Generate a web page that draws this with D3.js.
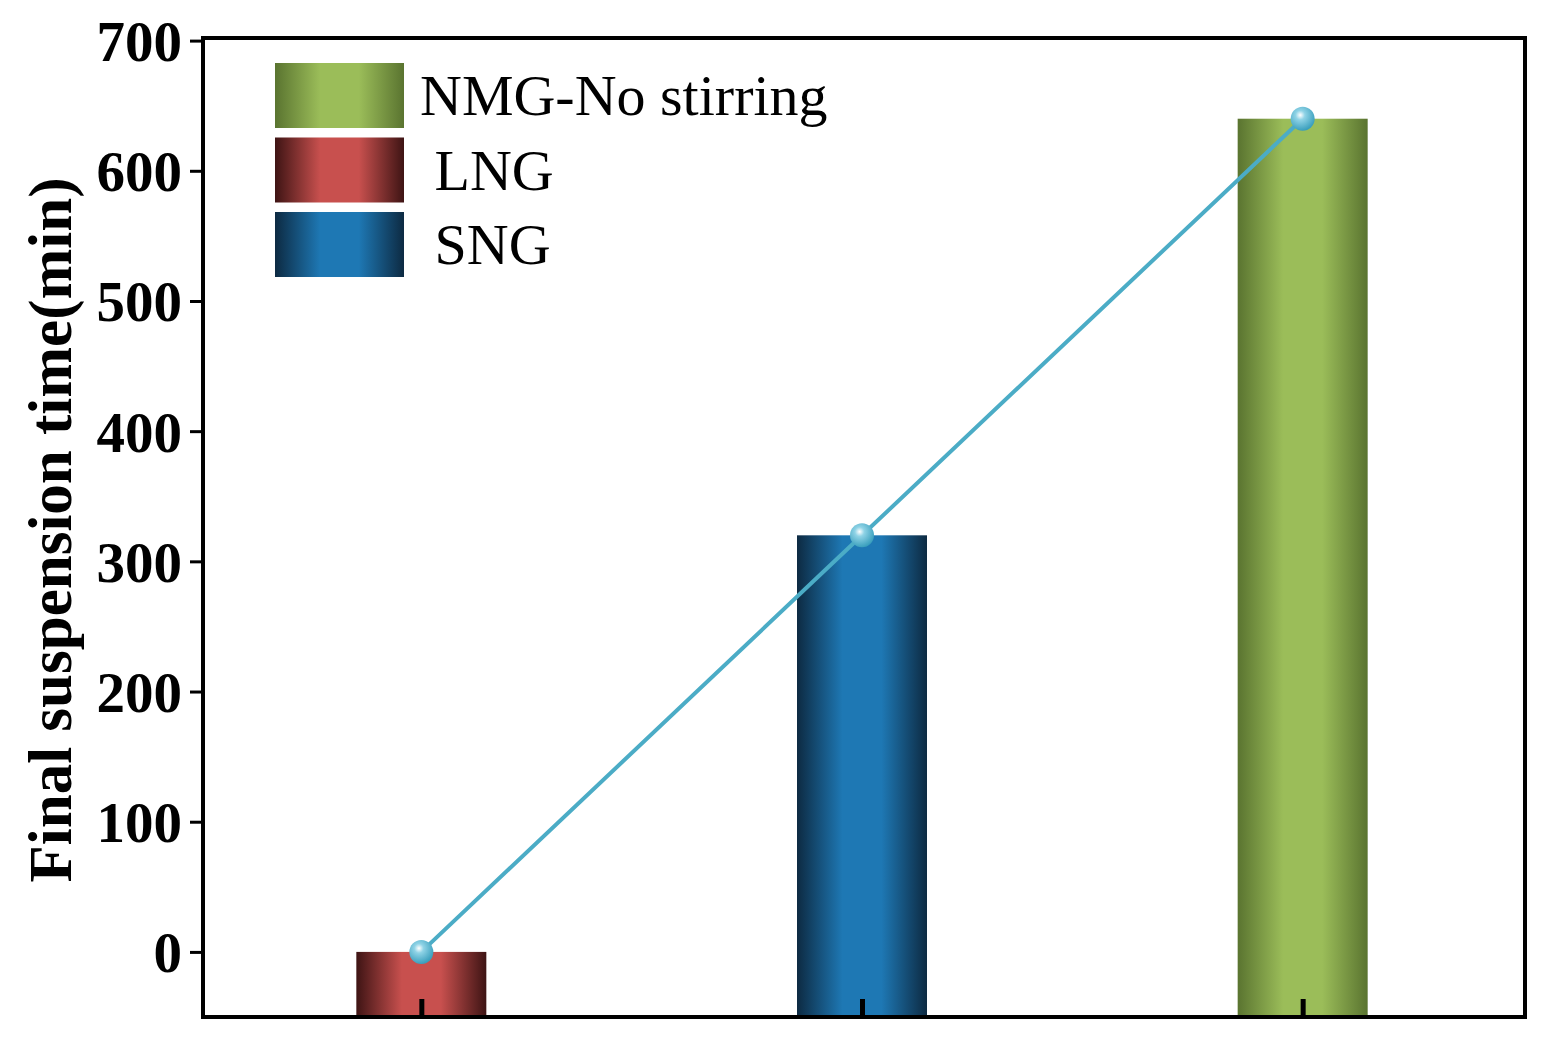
<!DOCTYPE html>
<html><head><meta charset="utf-8">
<script src="https://cdn.jsdelivr.net/npm/d3@7"></script>
<style>body{margin:0;background:#fff}</style>
</head><body>
<div id="chart"></div>
<script>
// data
let categories = ["LNG", "SNG", "NMG-No stirring"];
let positions = [1, 2, 3];
let values = [0, 320, 640];
let yTicks = [0, 100, 200, 300, 400, 500, 600, 700];
let legendOrder = ["NMG-No stirring", " LNG", " SNG"];
let colors = {
  "LNG": ["#3e1414", "#c8504e"],
  "SNG": ["#0d2a42", "#1e78b4"],
  "NMG-No stirring": ["#5a7430", "#9bbd59"]
};
let legendKeys = ["NMG-No stirring", "LNG", "SNG"];

let W = 1545, H = 1045;
let margin = {top: 38, right: 20, bottom: 28, left: 203};
let width = 1525 - margin.left;
let height = 1017 - margin.top;

let svg = d3.select("#chart").append("svg")
  .attr("width", W).attr("height", H)
  .style("font-family", "'Liberation Serif','Times New Roman',serif");

let defs = svg.append("defs");
Object.keys(colors).forEach(function(k, i) {
  let g = defs.append("linearGradient").attr("id", "grad" + i)
    .attr("x1", "0%").attr("x2", "100%").attr("y1", "0%").attr("y2", "0%");
  g.append("stop").attr("offset", "0%").attr("stop-color", colors[k][0]);
  g.append("stop").attr("offset", "35%").attr("stop-color", colors[k][1]);
  g.append("stop").attr("offset", "65%").attr("stop-color", colors[k][1]);
  g.append("stop").attr("offset", "100%").attr("stop-color", colors[k][0]);
});
let rg = defs.append("radialGradient").attr("id", "dot")
  .attr("cx", "40%").attr("cy", "35%").attr("r", "65%");
rg.append("stop").attr("offset", "0%").attr("stop-color", "#ffffff");
rg.append("stop").attr("offset", "30%").attr("stop-color", "#8fd3e6");
rg.append("stop").attr("offset", "100%").attr("stop-color", "#3a9fbd");

function gradId(k) { return "url(#grad" + Object.keys(colors).indexOf(k) + ")"; }

let g = svg.append("g").attr("transform", "translate(" + margin.left + "," + margin.top + ")");

let x = d3.scaleLinear().domain([0.5, 3.5]).range([-2, width - 2]);
let y = d3.scaleLinear().domain([-50, 702]).range([height, 0]);
let barW = 130;

// Bars
g.selectAll(".bar").data(values).enter().append("rect")
  .attr("x", function(d, i) { return x(positions[i]) - barW / 2; })
  .attr("y", function(d) { return y(d); })
  .attr("width", barW)
  .attr("height", function(d) { return y(-50) - y(d); })
  .attr("fill", function(d, i) { return gradId(categories[i]); });

// Line
let line = d3.line().x(function(d, i) { return x(positions[i]); }).y(function(d) { return y(d); });
g.append("path").datum(values).attr("d", line)
  .attr("fill", "none").attr("stroke", "#4bacc6").attr("stroke-width", 4);
g.selectAll(".pt").data(values).enter().append("circle")
  .attr("cx", function(d, i) { return x(positions[i]); })
  .attr("cy", function(d) { return y(d); })
  .attr("r", 12).attr("fill", "url(#dot)");

// Y axis
let yAxis = g.append("g").call(d3.axisLeft(y).tickValues(yTicks).tickSize(13).tickPadding(8));
yAxis.select(".domain").remove();
yAxis.selectAll("line").attr("stroke", "#000").attr("stroke-width", 3);
yAxis.selectAll("text").style("font-size", "57px").style("font-weight", "bold")
  .style("font-family", "'Liberation Serif',serif").attr("dy", "0.35em");

// X axis ticks (inside)
let xAxis = g.append("g").attr("transform", "translate(0," + height + ")")
  .call(d3.axisTop(x).tickValues(positions).tickSize(18).tickFormat(""));
xAxis.select(".domain").remove();
xAxis.selectAll("line").attr("stroke", "#000").attr("stroke-width", 5);

// Frame
g.append("rect").attr("x", 0).attr("y", 0).attr("width", width).attr("height", height)
  .attr("fill", "none").attr("stroke", "#000").attr("stroke-width", 4);

// Y label
svg.append("text")
  .attr("transform", "translate(71,530) rotate(-90)")
  .attr("text-anchor", "middle")
  .style("font-size", "61px").style("font-weight", "bold")
  .text("Final suspension time(min)");

// Legend
let leg = svg.append("g");
legendKeys.forEach(function(k, i) {
  let yy = 63 + i * 74.5;
  leg.append("rect").attr("x", 275).attr("y", yy).attr("width", 129).attr("height", 65)
    .attr("fill", gradId(k));
  leg.append("text").attr("x", 420).attr("y", yy + 52)
    .style("font-size", "58px").style("white-space", "pre")
    .attr("xml:space", "preserve")
    .text(legendOrder[i]);
});
</script>
</body></html>
